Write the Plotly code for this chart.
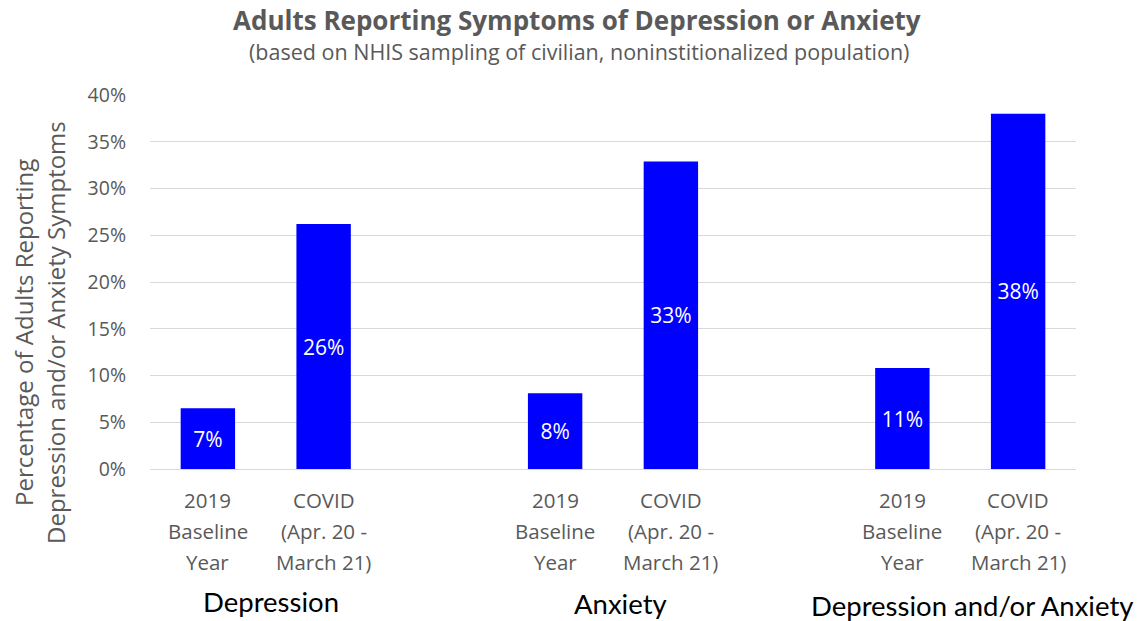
import plotly.graph_objects as go

# ---- data ----
groups = ["Depression", "Anxiety", "Depression and/or Anxiety"]
periods = ["2019<br>Baseline<br>Year", "COVID<br>(Apr. 20 -<br>March 21)"]
baseline_2019 = [0.065, 0.081, 0.108]
covid = [0.262, 0.329, 0.380]
bar_labels_2019 = ["7%", "8%", "11%"]
bar_labels_covid = ["26%", "33%", "38%"]
y_ticks = [0, 0.05, 0.10, 0.15, 0.20, 0.25, 0.30, 0.35, 0.40]

# slot positions (gap between groups)
x_2019 = [0, 3, 6]
x_covid = [1, 4, 7]

xs, ys, txt = [], [], []
for i in range(3):
    xs += [x_2019[i], x_covid[i]]
    ys += [baseline_2019[i], covid[i]]
    txt += [bar_labels_2019[i], bar_labels_covid[i]]

GRAY = "#595959"
fig = go.Figure()
fig.add_trace(go.Bar(
    x=xs, y=ys, text=txt, width=0.47,
    marker=dict(color="#0000FF", line=dict(width=0)),
    textposition="inside", insidetextanchor="middle",
    textfont=dict(color="white", size=21, family="Open Sans"),
    textangle=0, hoverinfo="skip",
))

PL = 150  # screen x of plot left edge
PW = 926  # plot width in px
anns = []
# title & subtitle
anns.append(dict(text="<b>Adults Reporting Symptoms of Depression or Anxiety</b>",
                 xref="paper", yref="paper", x=(577 - PL) / PW, y=1, yshift=95 - 20,
                 xanchor="center", yanchor="middle", showarrow=False,
                 font=dict(family="Open Sans", size=26, color=GRAY)))
anns.append(dict(text="(based on NHIS sampling of civilian, noninstitionalized population)",
                 xref="paper", yref="paper", x=(579 - PL) / PW, y=1, yshift=95 - 51,
                 xanchor="center", yanchor="middle", showarrow=False,
                 font=dict(family="Open Sans", size=21.5, color=GRAY)))
# y axis title (two lines)
for line, xp in [("Percentage of Adults Reporting", 23), ("Depression and/or Anxiety Symptoms", 55)]:
    anns.append(dict(text=line, textangle=-90, xref="paper", yref="paper",
                     x=0, xshift=xp - PL, y=0.5, yshift=-51,
                     xanchor="center", yanchor="middle", showarrow=False,
                     font=dict(family="Open Sans", size=24, color=GRAY)))
# x tick labels (line by line)
for i in range(3):
    for xv, lab in [(x_2019[i], periods[0]), (x_covid[i], periods[1])]:
        for k, part in enumerate(lab.split("<br>")):
            anns.append(dict(text=part, xref="x", yref="paper", x=xv, y=0,
                             yshift=-31 * (k + 1), xanchor="center", yanchor="middle",
                             showarrow=False,
                             font=dict(family="Open Sans", size=20.5, color=GRAY)))
# group labels
group_xshift = [5, 7, 12]
for i, g in enumerate(groups):
    cx = (x_2019[i] + x_covid[i]) / 2
    anns.append(dict(text=g, xref="x", yref="paper", x=cx, y=0, xshift=group_xshift[i],
                     yshift=-132 - 2 * i, xanchor="center", yanchor="middle",
                     showarrow=False,
                     font=dict(family="Lato", size=27.5, color="black")))

# page body has an 8px margin: shrink figure accordingly
fig.update_layout(
    width=1135, height=613,
    margin=dict(l=142, r=67, t=87, b=152),
    plot_bgcolor="white", paper_bgcolor="white",
    showlegend=False,
    annotations=anns,
    font=dict(family="Open Sans", color=GRAY),
)
fig.update_xaxes(range=[-0.5, 7.5], showticklabels=False, showgrid=False,
                 zeroline=False, showline=False, ticks="")
fig.update_yaxes(range=[0, 0.4], tickvals=y_ticks, tickformat=".0%",
                 showgrid=True, gridcolor="#d9d9d9", gridwidth=1,
                 zeroline=True, zerolinecolor="#d9d9d9", zerolinewidth=1,
                 showline=False, ticks="", ticklabelstandoff=23,
                 tickfont=dict(family="Open Sans", size=19.5, color=GRAY))

fig.write_html("out.html")
